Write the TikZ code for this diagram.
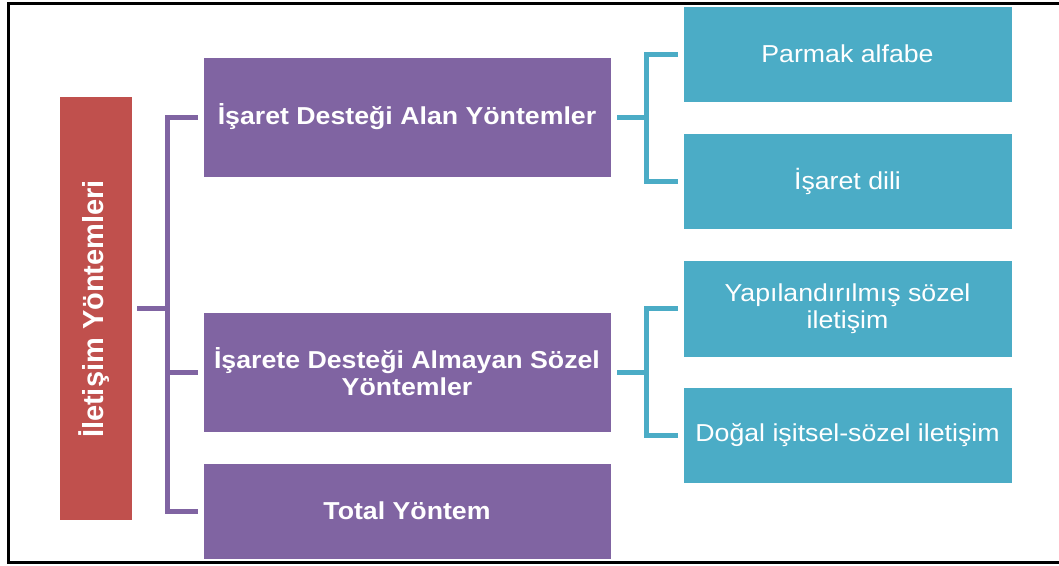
\documentclass[tikz,border=0pt]{standalone}
\usepackage{fontspec}
\setmainfont{Liberation Sans}[FakeStretch=1.09]
\newfontfamily\vfont{Liberation Sans}
\definecolor{purp}{HTML}{8064A2}
\definecolor{redb}{HTML}{C0504D}
\definecolor{tealb}{HTML}{4BACC6}
\begin{document}
\begin{tikzpicture}[x=1pt,y=-1pt,
  box/.style={rectangle, inner sep=0pt, draw=white, line width=0.6pt, text=white, align=center, font=\fontsize{24.5}{27}\selectfont},
  pbox/.style={box, fill=purp, minimum width=408pt, font=\bfseries\fontsize{24.5}{27}\selectfont},
  tbox/.style={box, fill=tealb, minimum width=329pt, minimum height=96pt},
  pline/.style={draw=purp, line width=5pt},
  tline/.style={draw=tealb, line width=5pt}]
\useasboundingbox (0,0) rectangle (1059,565);
% frame
\draw[line width=3pt] (1059,3) -- (8,3) -- (8,562) -- (1059,562);
% root
\node[box, fill=redb, minimum width=73pt, minimum height=424pt] (root) at (95.5,308) {};
\node[anchor=base, rotate=90, text=white, inner sep=0pt, font=\vfont\bfseries\fontsize{29}{32}\selectfont] (rootlabel) at (103,309) {İletişim Yöntemleri};
% purple
\node[pbox, minimum height=120pt] (p1) at (407,117) {İşaret Desteği Alan Yöntemler};
\node[pbox, minimum height=120pt] (p2) at (407,372) {İşarete Desteği Almayan Sözel\\Yöntemler};
\node[pbox, minimum height=96pt] (p3) at (407,511) {Total Yöntem};
% teal
\node[tbox] (ta) at (847.5,54) {Parmak alfabe};
\node[tbox] (tb) at (847.5,181) {İşaret dili};
\node[tbox, minimum height=97pt] (tc) at (847.5,308.5) {Yapılandırılmış sözel\\iletişim};
\node[tbox] (td) at (847.5,435) {Doğal işitsel-sözel iletişim};
% connectors
\draw[pline] ([xshift=5pt]root.east) -- ++(31,0);
\draw[pline] ([xshift=-5pt]p1.west) -- ++(-30,0) |- ([xshift=-5pt]p3.west);
\draw[pline] ([xshift=-5pt]p2.west) -- ++(-30,0);
\draw[tline] ([xshift=6pt]p1.east) -- ++(30,0);
\draw[tline] ([xshift=-5pt]ta.west) -- ++(-31,0) |- ([xshift=-5pt]tb.west);
\draw[tline] ([xshift=6pt]p2.east) -- ++(30,0);
\draw[tline] ([xshift=-5pt]tc.west) -- ++(-31,0) |- ([xshift=-5pt]td.west);
\end{tikzpicture}
\end{document}
